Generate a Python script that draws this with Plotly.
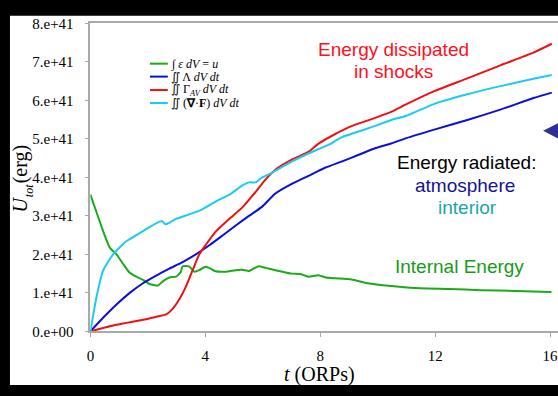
import plotly.graph_objects as go

W, H = 558, 396

# Time axis (orbital periods) and integrated energies in units of 1e41 erg
t_internal = [0, 0.22, 0.45, 0.68, 0.91, 1.14, 1.37, 1.6, 1.83, 2.06, 2.35, 2.52, 2.75,
              2.98, 3.1, 3.15, 3.21, 3.44, 3.55, 3.62, 3.79, 4.0, 4.13, 4.36, 4.71, 5.06,
              5.29, 5.52, 5.7, 5.86, 6.1, 6.44, 7.0, 7.3, 7.59, 7.93, 8.2, 8.51, 9.09,
              9.66, 10.47, 11.5, 12.5, 13.58, 14.8, 16.05]
u_internal = [3.55, 3.08, 2.59, 2.17, 2.0, 1.75, 1.52, 1.42, 1.34, 1.23, 1.19, 1.30, 1.40,
              1.42, 1.50, 1.55, 1.69, 1.69, 1.60, 1.55, 1.59, 1.68, 1.65, 1.56, 1.55, 1.59,
              1.60, 1.57, 1.64, 1.69, 1.65, 1.59, 1.50, 1.49, 1.42, 1.46, 1.40, 1.38, 1.35,
              1.25, 1.18, 1.12, 1.10, 1.07, 1.05, 1.02]

t_atmos = [0, 0.45, 0.91, 1.37, 1.83, 2.29, 2.75, 3.21, 3.67, 4.13, 4.6, 5.06, 5.52, 5.98,
           6.44, 7.01, 7.59, 8.17, 8.74, 9.32, 9.89, 10.47, 11.0, 11.97, 13.12, 14.27,
           15.42, 16.06]
u_atmos = [0, 0.36, 0.70, 1.0, 1.25, 1.45, 1.63, 1.80, 2.0, 2.23, 2.49, 2.75, 3.0, 3.24,
           3.58, 3.83, 4.04, 4.25, 4.41, 4.58, 4.75, 4.88, 5.02, 5.24, 5.49, 5.76, 6.06, 6.2]

t_shock = [0, 0.91, 1.83, 2.3, 2.64, 2.87, 3.1, 3.33, 3.56, 3.79, 4.02, 4.36, 4.83, 5.29,
           5.75, 6.1, 6.44, 7.01, 7.59, 7.93, 8.51, 9.09, 9.89, 10.47, 11.0, 11.97, 13.12,
           14.27, 15.42, 16.06]
u_shock = [0, 0.17, 0.30, 0.38, 0.44, 0.59, 0.84, 1.17, 1.59, 2.0, 2.25, 2.59, 2.92, 3.22,
           3.62, 3.95, 4.2, 4.46, 4.66, 4.87, 5.12, 5.33, 5.54, 5.70, 5.9, 6.24, 6.57,
           6.91, 7.24, 7.47]

t_interior = [0, 0.22, 0.45, 0.79, 1.25, 1.6, 2.06, 2.4, 2.5, 2.61, 2.75, 2.98, 3.44, 3.9,
              4.36, 4.9, 5.29, 5.52, 5.75, 5.98, 6.21, 7.01, 7.59, 7.93, 8.3, 8.74, 9.2,
              9.89, 10.47, 11.0, 11.97, 13.12, 14.27, 15.42, 16.06]
u_interior = [0, 0.92, 1.59, 2.0, 2.34, 2.5, 2.71, 2.85, 2.86, 2.78, 2.82, 2.92, 3.04, 3.17,
              3.37, 3.58, 3.79, 3.87, 3.87, 4.0, 4.08, 4.41, 4.62, 4.73, 4.85, 5.04, 5.16,
              5.33, 5.49, 5.6, 5.91, 6.16, 6.37, 6.56, 6.66]

x_ticks = [0, 4, 8, 12, 16]
y_ticks = [0, 1, 2, 3, 4, 5, 6, 7, 8]
y_tick_text = ["0.e+00", "1.e+41", "2.e+41", "3.e+41", "4.e+41",
               "5.e+41", "6.e+41", "7.e+41", "8.e+41"]

series = [
    (t_internal, u_internal, "#1aaa1a", "\u222b <i>\u03b5 dV</i> = <i>u</i>"),
    (t_atmos, u_atmos, "#0a10d8", "\u222c \u039b <i>dV dt</i>"),
    (t_shock, u_shock, "#f01010", "\u222c \u0393<sub><i>AV</i></sub> <i>dV dt</i>"),
    (t_interior, u_interior, "#1ccbf2", "\u222c (<b>\u2207</b>\u00b7<b>F</b>) <i>dV dt</i>"),
]


def px(x):
    return x / W


def py(y):
    return 1 - y / H


fig = go.Figure()
for t, u, color, name in series:
    fig.add_trace(go.Scatter(x=t, y=u, mode="lines", name=name,
                             line=dict(color=color, width=2, shape="spline", smoothing=0.5),
                             showlegend=False))

serif = "Liberation Serif, Times New Roman, serif"
sans = "Liberation Sans, Arial, sans-serif"

shapes = [
    # white page on the dark frame
    dict(type="rect", xref="paper", yref="paper", x0=px(6), x1=1.0, y0=py(393), y1=py(8),
         fillcolor="white", line=dict(width=0), layer="below"),
    # arrowhead at the right edge
    dict(type="path", xref="paper", yref="paper",
         path=f"M {px(543)},{py(128)} L {px(560)},{py(119)} L {px(560)},{py(137)} Z",
         fillcolor="#2d2f96", line=dict(width=0)),
]

annotations = []
# hand-built legend
legend_rows = [58, 71.5, 85.5, 99]
for (t, u, color, name), ry in zip(series, legend_rows):
    shapes.append(dict(type="line", xref="paper", yref="paper",
                       x0=px(147), x1=px(165), y0=py(ry), y1=py(ry),
                       line=dict(color=color, width=2)))
    annotations.append(dict(xref="paper", yref="paper", x=px(166), y=py(ry), text=name,
                            showarrow=False, xanchor="left", yanchor="middle",
                            font=dict(family=serif, size=12, color="black")))

labels = [
    ("Energy dissipated", 392, 43, "#ff1020"),
    ("in shocks", 392, 66, "#ff1020"),
    ("Energy radiated:", 466, 161, "black"),
    ("atmosphere", 464, 185, "#14148f"),
    ("interior", 467, 208, "#1aa6a6"),
    ("Internal Energy", 459, 269, "#189a18"),
]
for text, x, y, color in labels:
    annotations.append(dict(xref="paper", yref="paper", x=px(x), y=py(y), text=text,
                            showarrow=False, xanchor="center", yanchor="middle",
                            font=dict(family=sans, size=19, color=color)))

# vertical axis title, built from rotated pieces: U, subscript tot, (erg)
y_title_parts = [
    ("<i>U</i>", 16, 205, 20),
    ("<i>tot</i>", 26, 190, 12),
    ("(erg)", 17, 162, 20),
]
for text, x, y, size in y_title_parts:
    annotations.append(dict(xref="paper", yref="paper", x=px(x), y=py(y), text=text,
                            textangle=-90, showarrow=False,
                            xanchor="center", yanchor="middle",
                            font=dict(family=serif, size=size, color="black")))

annotations.append(dict(xref="paper", yref="paper", x=px(318), y=py(382),
                        text="<i>t</i> (ORPs)", showarrow=False,
                        xanchor="center", yanchor="middle",
                        font=dict(family=serif, size=20, color="black")))

axis_line = "#a9a9a9"
fig.update_layout(
    width=W, height=H,
    margin=dict(l=0, r=0, t=0, b=0),
    paper_bgcolor="black",
    plot_bgcolor="rgba(0,0,0,0)",
    shapes=shapes,
    annotations=annotations,
    xaxis=dict(domain=[px(87), 1.0], range=[0, (W - 87) / ((550 - 87) / 16)],
               tickvals=x_ticks, ticks="outside", ticklen=4, tickcolor=axis_line,
               showline=True, linecolor=axis_line, linewidth=1.5, mirror=True,
               showgrid=False, zeroline=False, ticklabelstandoff=6,
               ticklabeloverflow="allow",
               tickfont=dict(family=serif, size=15, color="black")),
    yaxis=dict(domain=[py(337), py(16)], range=[0, 8],
               tickvals=y_ticks, ticktext=y_tick_text, ticks="outside", ticklen=4,
               tickcolor=axis_line, showline=True, linecolor=axis_line, linewidth=1.5,
               showgrid=False, zeroline=False, ticklabelstandoff=8,
               tickfont=dict(family=serif, size=15, color="black")),
)

fig.write_html("out.html")
